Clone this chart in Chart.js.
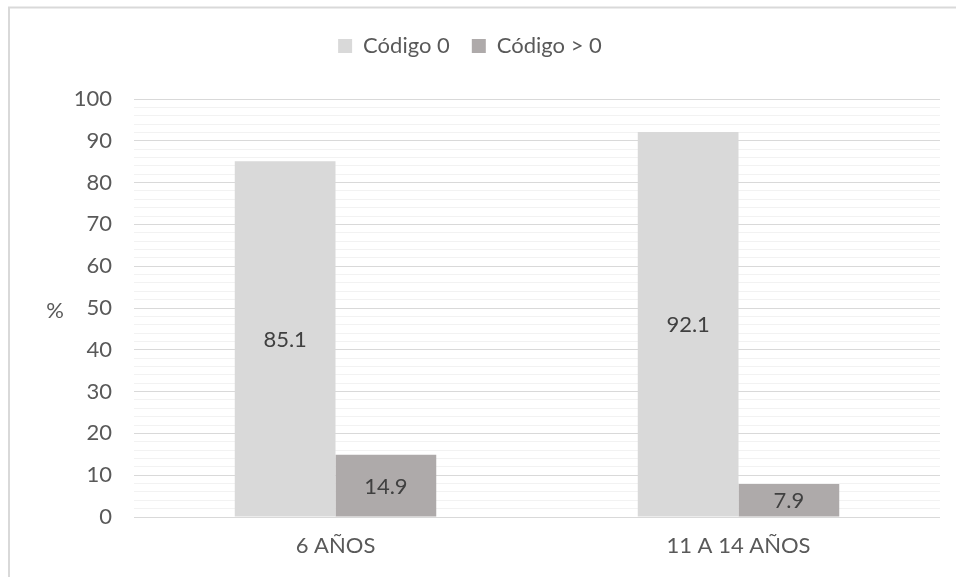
<!DOCTYPE html>
<html>
<head>
<meta charset="utf-8">
<title>Código 0 / Código > 0</title>
<script src="https://cdn.jsdelivr.net/npm/chart.js@4.4.0/dist/chart.umd.min.js"></script>
<style>
  body { margin: 0; background: #fff; }
  canvas { display: block; }
</style>
</head>
<body>
<canvas id="myChart" width="956" height="577"></canvas>
<script>
// data
const categories = ['6 AÑOS', '11 A 14 AÑOS'];
const seriesNames = ['Código 0', 'Código > 0'];
const codigo0 = [85.1, 92.1];
const codigoMayor0 = [14.9, 7.9];
const yMin = 0;
const yMax = 100;

const textColor = '#595959';
const fontFamily = 'Lato, "Open Sans", sans-serif';

// frame, "%" title and value labels
const extras = {
  id: 'extras',
  beforeInit(chart) {
    const fit = chart.legend.fit;
    chart.legend.fit = function () {
      fit.bind(chart.legend)();
      this.height = 86; // leaves room down to the plot top
    };
  },
  beforeDraw(chart) {
    const ctx = chart.ctx;
    ctx.save();
    ctx.strokeStyle = '#d9d9d9';
    ctx.lineWidth = 2;
    ctx.beginPath();
    ctx.moveTo(9, 577);
    ctx.lineTo(9, 7.5);
    ctx.lineTo(956, 7.5);
    ctx.stroke();
    ctx.restore();
  },
  afterDatasetsDraw(chart) {
    const ctx = chart.ctx;
    const area = chart.chartArea;
    ctx.save();
    ctx.font = '22px ' + fontFamily;
    ctx.fillStyle = textColor;
    ctx.textAlign = 'center';
    ctx.textBaseline = 'middle';
    ctx.fillText('%', 55, (area.top + area.bottom) / 2 + 3);

    ctx.fillStyle = '#404040';
    chart.data.datasets.forEach((ds, i) => {
      chart.getDatasetMeta(i).data.forEach((bar, j) => {
        const mid = (bar.y + bar.base) / 2;
        ctx.fillText(ds.data[j].toFixed(1), bar.x, mid + 1);
      });
    });
    ctx.restore();
  }
};

const ctx = document.getElementById('myChart').getContext('2d');
const chart = new Chart(ctx, {
  type: 'bar',
  data: {
    labels: categories,
    datasets: [
      {
        label: seriesNames[0],
        data: codigo0,
        backgroundColor: '#d9d9d9',
        categoryPercentage: 0.5,
        barPercentage: 1.0
      },
      {
        label: seriesNames[1],
        data: codigoMayor0,
        backgroundColor: '#aeaaaa',
        categoryPercentage: 0.5,
        barPercentage: 1.0
      }
    ]
  },
  options: {
    responsive: false,
    animation: false,
    devicePixelRatio: 1,
    layout: { padding: { left: 0, right: 16, top: 13, bottom: 0 } },
    plugins: {
      legend: {
        position: 'top',
        labels: {
          boxWidth: 14,
          boxHeight: 14,
          padding: 22,
          color: textColor,
          font: { family: fontFamily, size: 22 }
        }
      },
      tooltip: { enabled: false }
    },
    scales: {
      x: {
        grid: { display: false },
        border: { display: false },
        ticks: {
          color: textColor,
          padding: 8,
          font: { family: fontFamily, size: 22 }
        },
        afterFit(scale) { scale.height = 60; }
      },
      y: {
        min: yMin,
        max: yMax,
        border: { display: false },
        grid: {
          drawTicks: false,
          lineWidth: 1,
          color: c => (c.tick && c.tick.value % 10 === 0) ? '#d9d9d9' : '#f2f2f2'
        },
        ticks: {
          stepSize: 2,
          autoSkip: false,
          padding: 22,
          color: textColor,
          font: { family: fontFamily, size: 22 },
          callback: v => (v % 10 === 0 ? v : '')
        },
        afterFit(scale) { scale.width = 134; }
      }
    }
  },
  plugins: [extras]
});
</script>
</body>
</html>
